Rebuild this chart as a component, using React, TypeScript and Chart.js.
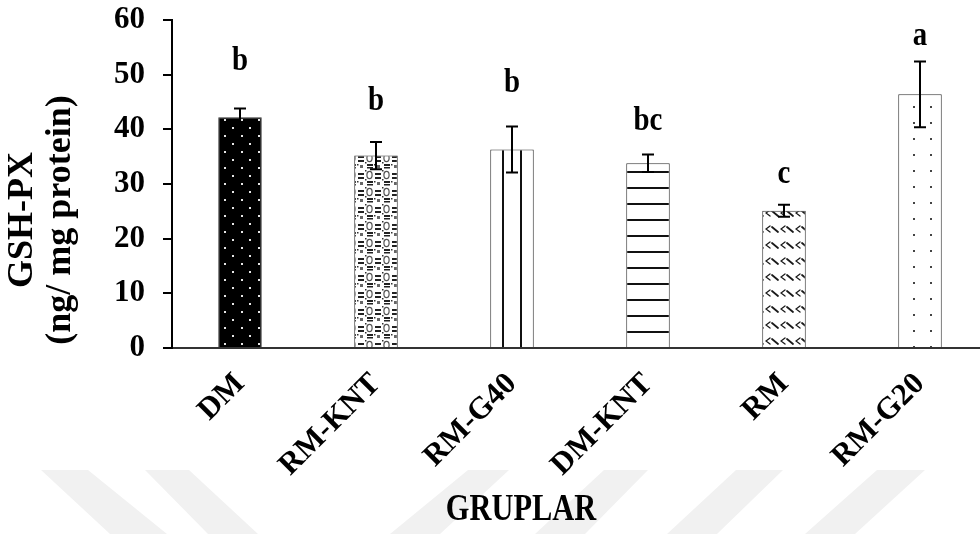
import React, { useEffect, useRef } from "react";
import { Chart, registerables } from "chart.js";

Chart.register(...registerables);

const categories = ["DM", "RM-KNT", "RM-G40", "DM-KNT", "RM", "RM-G20"];
const means = [42.2, 35.2, 36.3, 33.8, 25.1, 46.4];
const errors = [1.6, 2.5, 4.2, 1.6, 1.1, 6.0];
const letters = ["b", "b", "b", "bc", "c", "a"];
const letterBaseline = [50.9, 43.5, 46.8, 39.9, 30.2, 55.4];
const yTicks = [0, 10, 20, 30, 40, 50, 60];
const yTitle = ["GSH-PX", "(ng/ mg protein)"];
const xTitle = "GRUPLAR";

const SERIF = "'Liberation Serif', 'Times New Roman', serif";

function tile(w: number, h: number, draw: (c: CanvasRenderingContext2D) => void) {
  const cv = document.createElement("canvas");
  cv.width = w;
  cv.height = h;
  const c = cv.getContext("2d") as CanvasRenderingContext2D;
  draw(c);
  return cv;
}

function makePatterns(ctx: CanvasRenderingContext2D) {
  const p: (CanvasPattern | string)[] = [];
  // DM: black with white staggered dots
  p.push(
    ctx.createPattern(
      tile(17, 16, (c) => {
        c.fillStyle = "#000";
        c.fillRect(0, 0, 17, 16);
        c.fillStyle = "#e6e6e6";
        c.fillRect(3, 7, 2, 2);
        c.fillRect(11, 15, 2, 1);
        c.fillRect(11, 0, 2, 1);
      }),
      "repeat"
    ) as CanvasPattern
  );
  // RM-KNT: weave-like grey pattern
  p.push(
    ctx.createPattern(
      tile(17, 17, (c) => {
        c.fillStyle = "#fff";
        c.fillRect(0, 0, 17, 17);
        c.fillStyle = "#222";
        c.fillRect(1, 3, 6, 2);
        c.fillRect(1, 7, 6, 2);
        c.fillRect(10, 11, 6, 2);
        c.fillRect(10, 14, 6, 1.5);
        c.strokeStyle = "#555";
        c.lineWidth = 1.2;
        c.beginPath();
        c.ellipse(12.5, 5, 2.6, 3.6, 0, 0, Math.PI * 2);
        c.stroke();
        c.fillStyle = "#666";
        c.fillRect(3, 12, 3, 3);
        c.fillStyle = "#333";
        c.fillRect(8, 0, 1.5, 1.5);
        c.fillRect(8, 9, 1.5, 1.5);
        c.fillRect(0, 11, 1.5, 1.5);
      }),
      "repeat"
    ) as CanvasPattern
  );
  // RM-G40: vertical lines
  p.push(
    ctx.createPattern(
      tile(18, 16, (c) => {
        c.fillStyle = "#fff";
        c.fillRect(0, 0, 18, 16);
        c.fillStyle = "#111";
        c.fillRect(16, 0, 2, 16);
      }),
      "repeat"
    ) as CanvasPattern
  );
  // DM-KNT: horizontal lines
  p.push(
    ctx.createPattern(
      tile(16, 16, (c) => {
        c.fillStyle = "#fff";
        c.fillRect(0, 0, 16, 16);
        c.fillStyle = "#111";
        c.fillRect(0, 11, 16, 2);
      }),
      "repeat"
    ) as CanvasPattern
  );
  // RM: zigzag marks
  p.push(
    ctx.createPattern(
      tile(15, 16, (c) => {
        c.fillStyle = "#fff";
        c.fillRect(0, 0, 15, 16);
        c.strokeStyle = "#1a1a1a";
        c.lineWidth = 1.3;
        c.lineCap = "round";
        c.beginPath();
        c.moveTo(5, 2);
        c.lineTo(1, 5);
        c.lineTo(5, 8);
        c.stroke();
        c.lineWidth = 1.8;
        c.beginPath();
        c.moveTo(7, 3);
        c.lineTo(13, 8);
        c.stroke();
      }),
      "repeat"
    ) as CanvasPattern
  );
  // RM-G20: sparse dots
  p.push(
    ctx.createPattern(
      tile(17, 16, (c) => {
        c.fillStyle = "#fff";
        c.fillRect(0, 0, 17, 16);
        c.fillStyle = "#444";
        c.fillRect(12, 10, 2, 2);
      }),
      "repeat"
    ) as CanvasPattern
  );
  return p;
}

const watermark = {
  id: "watermark",
  beforeDraw(chart: any) {
    const c = chart.ctx as CanvasRenderingContext2D;
    const top = 470;
    const bot = 534;
    const bands: number[][] = [
      [41, 88, 110, 167],
      [145, 189, 208, 258],
      [468, 509, 390, 440],
      [604, 648, 535, 585],
      [736, 783, 667, 717],
      [877, 925, 805, 855],
    ];
    c.save();
    c.fillStyle = "#f1f1f1";
    for (const b of bands) {
      c.beginPath();
      c.moveTo(b[0], top);
      c.lineTo(b[1], top);
      c.lineTo(b[3], bot);
      c.lineTo(b[2], bot);
      c.closePath();
      c.fill();
    }
    c.restore();
  },
};

const annotations = {
  id: "annotations",
  afterDatasetsDraw(chart: any) {
    const c = chart.ctx as CanvasRenderingContext2D;
    const xs = chart.scales.x;
    const ys = chart.scales.y;
    c.save();
    c.strokeStyle = "#000";
    c.lineWidth = 2;
    means.forEach((m, i) => {
      const x = xs.getPixelForValue(i);
      const t = ys.getPixelForValue(m + errors[i]);
      const b = ys.getPixelForValue(m - errors[i]);
      c.beginPath();
      c.moveTo(x, t);
      c.lineTo(x, b);
      c.moveTo(x - 6, t);
      c.lineTo(x + 6, t);
      c.moveTo(x - 6, b);
      c.lineTo(x + 6, b);
      c.stroke();
    });
    c.fillStyle = "#000";
    c.font = `bold 34px ${SERIF}`;
    c.textAlign = "center";
    c.textBaseline = "alphabetic";
    letters.forEach((l, i) => {
      const x = xs.getPixelForValue(i);
      const y = ys.getPixelForValue(letterBaseline[i]);
      c.save();
      c.translate(x, y);
      c.scale(0.85, 1);
      c.fillText(l, 0, 0);
      c.restore();
    });
    c.restore();
  },
  afterDraw(chart: any) {
    const c = chart.ctx as CanvasRenderingContext2D;
    c.save();
    c.fillStyle = "#000";
    c.font = `bold 36px ${SERIF}`;
    c.textAlign = "center";
    c.textBaseline = "alphabetic";
    const baseX = [32, 70];
    yTitle.forEach((t, i) => {
      c.save();
      c.translate(baseX[i], 220);
      c.rotate(-Math.PI / 2);
      c.fillText(t, 0, 0);
      c.restore();
    });
    c.font = `bold 38px ${SERIF}`;
    c.save();
    c.translate(521, 520);
    c.scale(0.8, 1);
    c.fillText(xTitle, 0, 0);
    c.restore();
    c.restore();
  },
};

export default function App() {
  const ref = useRef<HTMLCanvasElement>(null);
  useEffect(() => {
    const canvas = ref.current;
    if (!canvas) return;
    const ctx = canvas.getContext("2d") as CanvasRenderingContext2D;
    const patterns = makePatterns(ctx);
    const chart = new Chart(canvas, {
      type: "bar",
      data: {
        labels: categories,
        datasets: [
          {
            data: means,
            backgroundColor: patterns as any,
            borderColor: "#333",
            borderWidth: 1,
            categoryPercentage: 1,
            barPercentage: 0.32,
          },
        ],
      },
      options: {
        animation: false,
        responsive: false,
        layout: { padding: { top: 20, left: 0, right: 0, bottom: 0 } },
        plugins: {
          legend: { display: false },
          tooltip: { enabled: false },
        },
        scales: {
          x: {
            afterFit: (s: any) => {
              s.height = 186;
              s.paddingLeft = 0;
              s.paddingRight = 0;
            },
            grid: { display: false, drawTicks: false },
            border: { display: true, color: "#333", width: 2 },
            ticks: {
              color: "#000",
              font: { family: SERIF, weight: "bold", size: 31 },
              minRotation: 45,
              maxRotation: 45,
              padding: 18,
              autoSkip: false,
            },
          },
          y: {
            min: 0,
            max: 60,
            afterFit: (s: any) => {
              s.width = 172;
              s.paddingTop = 0;
              s.paddingBottom = 0;
            },
            afterBuildTicks: (s: any) => {
              s.ticks = yTicks.map((v) => ({ value: v }));
            },
            grid: {
              display: true,
              drawOnChartArea: false,
              drawTicks: true,
              tickLength: 9,
              color: "#000",
              lineWidth: 2,
            },
            border: { display: true, color: "#000", width: 2 },
            ticks: {
              color: "#000",
              font: { family: SERIF, weight: "bold", size: 31 },
              padding: 18,
            },
          },
        },
      },
      plugins: [watermark, annotations],
    });
    return () => chart.destroy();
  }, []);
  return (
    <div
      style={{
        position: "fixed",
        left: 0,
        top: 0,
        width: 980,
        height: 534,
        overflow: "hidden",
        background: "#fff",
      }}
    >
      <canvas ref={ref} width={988} height={534} style={{ width: 988, height: 534, display: "block" }} />
    </div>
  );
}
